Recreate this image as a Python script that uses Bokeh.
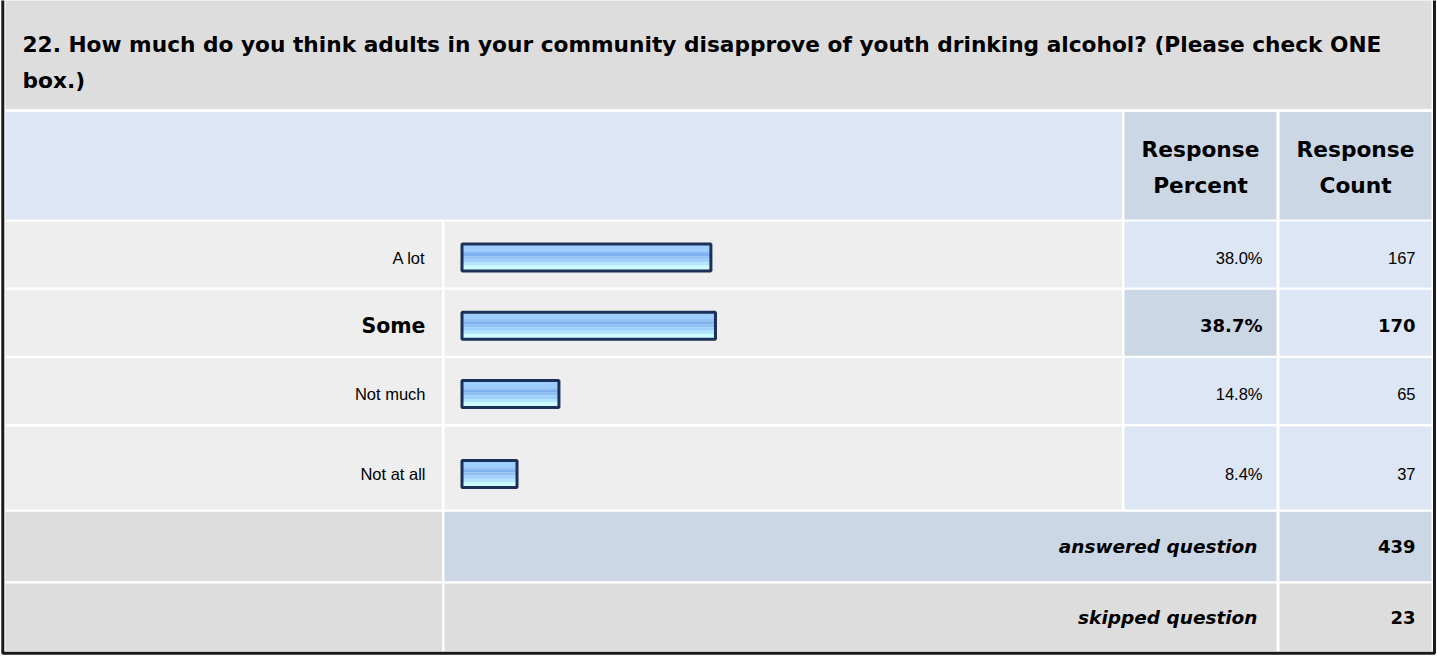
from bokeh.plotting import figure
from bokeh.models import Range1d, ColumnDataSource
from bokeh.core.properties import value
from bokeh.embed import file_html
from bokeh.resources import INLINE

# ---------------- data ----------------
title_lines = [
    "22. How much do you think adults in your community disapprove of youth drinking alcohol? (Please check ONE",
    "box.)",
]
header_percent = ["Response", "Percent"]
header_count = ["Response", "Count"]
categories = ["A lot", "Some", "Not much", "Not at all"]
percents = [38.0, 38.7, 14.8, 8.4]
counts = [167, 170, 65, 37]
bold_category = "Some"
answered_label = "answered question"
answered_count = 439
skipped_label = "skipped question"
skipped_count = 23

# ---------------- layout ----------------
W, H = 1437, 656
X_L, X_LAB_R = 5, 441.5
X_BAR_L, X_BAR_R = 444, 1121.5
X_PCT_L, X_PCT_R = 1124, 1276
X_CNT_L, X_CNT_R = 1279, 1431
TITLE_T, TITLE_B = -10, 108.5
HEAD_T, HEAD_B = 111.5, 219
ROW_T0, ROW_GAP = 221, 2.3
ROW_HS = [66, 66, 66, 83]
CENTER_SHIFT = [3, 3, 3, 6]
BAR_X0 = 461.5          # pixel where 0 % sits
PX_PER_PCT = 6.55
BAR_H = 27

C_TITLE = "#dddddd"
C_LIGHT = "#eeeeee"
C_BLUE = "#dce6f4"
C_BLUE2 = "#cbd7e5"
C_GRAY = "#dddddd"

REG_FONT = "Liberation Sans"
BOLD_FONT = "DejaVu Sans"

p = figure(width=W, height=H, x_range=Range1d(0, W), y_range=Range1d(H, 0),
           output_backend="svg", toolbar_location=None, min_border=0,
           x_axis_location=None, y_axis_location=None)
p.grid.visible = False
p.outline_line_color = None
p.background_fill_color = "white"
p.border_fill_color = "white"
p.extra_x_ranges["pct"] = Range1d(start=-BAR_X0 / PX_PER_PCT, end=(W - BAR_X0) / PX_PER_PCT)

# rows
row_tops, row_bots = [], []
t = ROW_T0
for h in ROW_HS:
    row_tops.append(t)
    row_bots.append(t + h)
    t += h + ROW_GAP
ANS_T = t
ANS_B = ANS_T + 69.5
SKP_T = ANS_B + ROW_GAP
SKP_B = 650.5

cells = dict(left=[], right=[], top=[], bottom=[], color=[])
def cell(l, r, tp, b, c):
    cells["left"].append(l); cells["right"].append(r)
    cells["top"].append(tp); cells["bottom"].append(b); cells["color"].append(c)

cell(X_L, X_CNT_R, TITLE_T, TITLE_B, C_TITLE)
cell(X_L, X_BAR_R, HEAD_T, HEAD_B, C_BLUE)
cell(X_PCT_L, X_PCT_R, HEAD_T, HEAD_B, C_BLUE2)
cell(X_CNT_L, X_CNT_R, HEAD_T, HEAD_B, C_BLUE2)
for cat, tp, b in zip(categories, row_tops, row_bots):
    cell(X_L, X_LAB_R, tp, b, C_LIGHT)
    cell(X_BAR_L, X_BAR_R, tp, b, C_LIGHT)
    cell(X_PCT_L, X_PCT_R, tp, b, C_BLUE2 if cat == bold_category else C_BLUE)
    cell(X_CNT_L, X_CNT_R, tp, b, C_BLUE)
cell(X_L, X_LAB_R, ANS_T, ANS_B, C_GRAY)
cell(X_BAR_L, X_PCT_R, ANS_T, ANS_B, C_BLUE2)
cell(X_CNT_L, X_CNT_R, ANS_T, ANS_B, C_BLUE2)
cell(X_L, X_LAB_R, SKP_T, SKP_B, C_GRAY)
cell(X_BAR_L, X_PCT_R, SKP_T, SKP_B, C_GRAY)
cell(X_CNT_L, X_CNT_R, SKP_T, SKP_B, C_GRAY)
p.quad(left="left", right="right", top="top", bottom="bottom", fill_color="color",
       line_color=None, source=ColumnDataSource(cells))

# outer border
p.quad(left=[2.3], right=[1434], top=[-20], bottom=[652.7], fill_color=None,
       line_color="#1a1a1a", line_width=3)

# bars (gradient simulated with bands)
centers = [(tp + b) / 2 + s for tp, b, s in zip(row_tops, row_bots, CENTER_SHIFT)]
bands = [(0.00, 0.25, "#9dcefe"), (0.25, 0.33, "#92c3f9"), (0.33, 0.45, "#7eb1ed"),
         (0.45, 0.55, "#8cbff5"), (0.55, 0.68, "#9dd0ff"), (0.68, 0.80, "#b2e3ff"),
         (0.80, 1.00, "#cdfcff")]
for f0, f1, col in bands:
    src = ColumnDataSource(dict(
        right=percents,
        top=[c - BAR_H / 2 + f0 * BAR_H for c in centers],
        bottom=[c - BAR_H / 2 + f1 * BAR_H for c in centers]))
    p.quad(left=0, right="right", top="top", bottom="bottom", source=src,
           fill_color=col, line_color=None, x_range_name="pct")
p.quad(left=0, right=percents, top=[c - BAR_H / 2 for c in centers],
       bottom=[c + BAR_H / 2 for c in centers], fill_color=None,
       line_color="#1b3157", line_width=3, x_range_name="pct")

# texts
def txt(xs, ys, texts, bold=False, italic=False, align="left", size=None):
    style = "bold italic" if (bold and italic) else ("bold" if bold else ("italic" if italic else "normal"))
    p.text(x=xs, y=ys, text=texts,
           text_font=value(BOLD_FONT if bold else REG_FONT),
           text_font_size=size or ("18px" if bold else "16.5px"),
           text_font_style=style, text_align=align, text_baseline="middle",
           text_color="#000000")

txt([22, 22], [44, 80], title_lines, bold=True, size="21.7px")
pc = (X_PCT_L + X_PCT_R) / 2
cc = (X_CNT_L + X_CNT_R) / 2
txt([pc, pc], [149, 185], header_percent, bold=True, align="center", size="21.7px")
txt([cc, cc], [149, 185], header_count, bold=True, align="center", size="21.7px")

for cat, v, n, c in zip(categories, percents, counts, centers):
    b = cat == bold_category
    txt([425], [c], [cat], bold=b, align="right", size="20.5px" if b else None)
    txt([1262], [c], [f"{v:.1f}%"], bold=b, align="right")
    txt([1415], [c], [str(n)], bold=b, align="right")

ac = (ANS_T + ANS_B) / 2
sc = (SKP_T + SKP_B) / 2
txt([1257], [ac], [answered_label], bold=True, italic=True, align="right", size="18.5px")
txt([1415], [ac], [str(answered_count)], bold=True, align="right")
txt([1257], [sc], [skipped_label], bold=True, italic=True, align="right", size="18.5px")
txt([1415], [sc], [str(skipped_count)], bold=True, align="right")

open("out.html", "w").write(file_html(p, INLINE))
